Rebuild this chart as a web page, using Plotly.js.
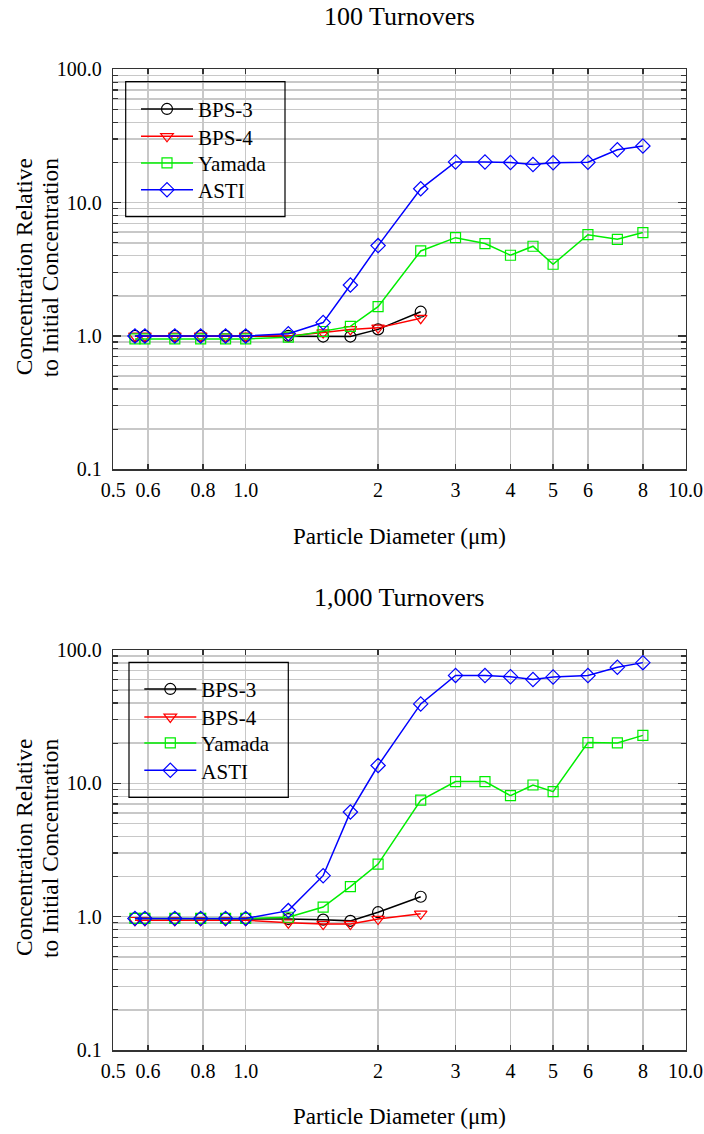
<!DOCTYPE html>
<html>
<head>
<meta charset="utf-8">
<script src="https://cdn.plot.ly/plotly-3.0.1.min.js"></script>
<style>
html,body{margin:0;padding:0;background:#fff;}
#chart{width:704px;height:1134px;}
</style>
</head>
<body>
<div id="chart"></div>
<script>
// ---- data ----
const diameters = [0.56, 0.59, 0.69, 0.79, 0.9, 1.0, 1.25, 1.5, 1.73, 2.0, 2.5, 3.0, 3.5, 4.0, 4.5, 5.0, 6.0, 7.0, 8.0];
const bpsDiameters = [0.56, 0.59, 0.69, 0.79, 0.9, 1.0, 1.25, 1.5, 1.73, 2.0, 2.5];

const bps3_100 = [1.0, 1.0, 1.0, 1.0, 1.0, 1.0, 1.0, 0.99, 0.99, 1.12, 1.52];
const bps4_100 = [1.0, 1.0, 1.0, 1.0, 0.99, 1.0, 1.0, 1.06, 1.12, 1.15, 1.36];
const yamada_100 = [0.95, 0.95, 0.95, 0.95, 0.95, 0.95, 0.98, 1.08, 1.18, 1.66, 4.34, 5.46, 4.93, 4.03, 4.71, 3.45, 5.75, 5.31, 5.96];
const asti_100 = [1.0, 1.0, 1.0, 1.0, 1.0, 1.0, 1.04, 1.26, 2.41, 4.76, 12.7, 20.2, 20.2, 20.0, 19.3, 19.9, 20.1, 24.9, 26.6];

const bps3_1000 = [0.97, 0.97, 0.97, 0.97, 0.97, 0.97, 0.96, 0.95, 0.93, 1.08, 1.41];
const bps4_1000 = [0.94, 0.94, 0.94, 0.94, 0.94, 0.94, 0.90, 0.88, 0.88, 0.96, 1.05];
const yamada_1000 = [0.97, 0.97, 0.97, 0.97, 0.97, 0.97, 0.99, 1.18, 1.68, 2.48, 7.47, 10.3, 10.3, 8.09, 9.72, 8.66, 20.2, 20.1, 22.9];
const asti_1000 = [0.97, 0.97, 0.97, 0.97, 0.97, 0.97, 1.11, 2.03, 6.1, 13.6, 39.4, 64.5, 64.3, 63.1, 60.0, 62.8, 64.3, 74.3, 80.4];

const seriesNames = ['BPS-3', 'BPS-4', 'Yamada', 'ASTI'];
const panelTitles = ['100 Turnovers', '1,000 Turnovers'];
const xTitleText = 'Particle Diameter (μm)';
const yTitleLines = ['Concentration Relative', 'to Initial Concentration'];

const xTickVals = [0.5, 0.6, 0.8, 1, 2, 3, 4, 5, 6, 8, 10];
const xTickText = ['0.5', '0.6', '0.8', '1.0', '2', '3', '4', '5', '6', '8', '10.0'];
const yTickVals = [0.1, 1, 10, 100];
const yTickText = ['0.1', '1.0', '10.0', '100.0'];
const yMinorVals = [0.2,0.3,0.4,0.5,0.6,0.7,0.8,0.9,2,3,4,5,6,7,8,9,20,30,40,50,60,70,80,90];

// ---- styling ----
const W = 704, H = 1134;
const FONT = '"Liberation Serif", "Times New Roman", serif';
const styles = [
  {color: '#000000', symbol: 'circle-open', size: 11},
  {color: '#ff0000', symbol: 'triangle-down-open', size: 11},
  {color: '#00ee00', symbol: 'square-open', size: 10},
  {color: '#0000ff', symbol: 'diamond-open', size: 11}
];

function px(x) { return x / W; }
function py(y) { return 1 - y / H; }

const panels = [
  {x: [bpsDiameters, bpsDiameters, diameters, diameters], y: [bps3_100, bps4_100, yamada_100, asti_100]},
  {x: [bpsDiameters, bpsDiameters, diameters, diameters], y: [bps3_1000, bps4_1000, yamada_1000, asti_1000]}
];

const plotTop = [69.3, 650];
const plotBot = [469.3, 1050];
const plotL = 113.3, plotR = 685.5;

// legend layout (pixel positions)
const legBox = [
  {x0: 125.7, x1: 285, y0: 81.7, y1: 216.7, lineStart: 141, rows: [109.3, 136.7, 163.3, 190]},
  {x0: 129, x1: 288.3, y0: 662.3, y1: 797.3, lineStart: 144.3, rows: [689.3, 717.3, 743.3, 770.7]}
];

const traces = [];
const legends = {};
let li = 0;
panels.forEach((p, pi) => {
  for (let s = 0; s < 4; s++) {
    li++;
    const lid = li === 1 ? 'legend' : 'legend' + li;
    traces.push({
      x: p.x[s], y: p.y[s], name: seriesNames[s],
      type: 'scatter', mode: 'lines+markers',
      xaxis: pi === 0 ? 'x' : 'x2', yaxis: pi === 0 ? 'y' : 'y2',
      legend: lid,
      line: {color: styles[s].color, width: 1.5},
      marker: {symbol: styles[s].symbol, size: styles[s].size, color: styles[s].color, line: {color: styles[s].color, width: 1.2}},
      cliponaxis: false
    });
    const b = legBox[pi];
    legends[lid] = {x: px(b.lineStart - 5), y: py(b.rows[s]), xanchor: 'left', yanchor: 'middle',
      bgcolor: 'rgba(0,0,0,0)', borderwidth: 0, font: {family: FONT, size: 21, color: '#000'}, itemwidth: 52};
  }
});

function xAxis(anchor) {
  return {
    type: 'log', range: [Math.log10(0.5), 1], domain: [px(plotL), px(plotR)], anchor: anchor,
    tickmode: 'array', tickvals: xTickVals, ticktext: xTickText,
    ticks: 'inside', ticklen: 5, tickwidth: 1.5, tickcolor: '#333',
    showgrid: true, gridcolor: '#c8c8c8', gridwidth: 1.5,
    showline: true, linecolor: '#333', linewidth: 1.5, mirror: 'allticks',
    zeroline: false, tickfont: {family: FONT, size: 20, color: '#000'},
    ticklabelstandoff: 2, fixedrange: true
  };
}
function yAxis(anchor, pi) {
  return {
    type: 'log', range: [-1, 2], domain: [py(plotBot[pi]), py(plotTop[pi])], anchor: anchor,
    tickmode: 'array', tickvals: yTickVals, ticktext: yTickText,
    ticks: 'inside', ticklen: 8, tickwidth: 1.5, tickcolor: '#333',
    showgrid: true, gridcolor: '#c8c8c8', gridwidth: 1.5,
    minor: {tickmode: 'array', tickvals: yMinorVals, ticks: 'inside', ticklen: 5, tickwidth: 1.2, tickcolor: '#333', showgrid: true, gridcolor: '#c8c8c8', gridwidth: 1.5},
    showline: true, linecolor: '#333', linewidth: 1.5, mirror: 'allticks',
    zeroline: false, tickfont: {family: FONT, size: 20, color: '#000'},
    ticklabelstandoff: 6, fixedrange: true
  };
}

const annotations = [];
const titleY = [16, 597];
const xTitleY = [537, 1116];
const yTitleX = [24, 50];
panels.forEach((p, pi) => {
  annotations.push({text: panelTitles[pi], xref: 'paper', yref: 'paper', x: px((plotL + plotR) / 2), y: py(titleY[pi]),
    xanchor: 'center', yanchor: 'middle', showarrow: false, font: {family: FONT, size: 26, color: '#000'}});
  annotations.push({text: xTitleText, xref: 'paper', yref: 'paper', x: px((plotL + plotR) / 2), y: py(xTitleY[pi]),
    xanchor: 'center', yanchor: 'middle', showarrow: false, font: {family: FONT, size: 23, color: '#000'}});
  yTitleLines.forEach((t, k) => {
    annotations.push({text: t, xref: 'paper', yref: 'paper', x: px(yTitleX[k]), y: py((plotTop[pi] + plotBot[pi]) / 2 - 2),
      xanchor: 'center', yanchor: 'middle', textangle: -90, showarrow: false, font: {family: FONT, size: 23.5, color: '#000'}});
  });
});

const shapes = legBox.map(b => ({type: 'rect', xref: 'paper', yref: 'paper', x0: px(b.x0), x1: px(b.x1), y0: py(b.y1), y1: py(b.y0),
  line: {color: '#000', width: 1.2}, fillcolor: 'rgba(255,255,255,0)', layer: 'above'}));

const layout = Object.assign({
  width: W, height: H, margin: {l: 0, r: 0, t: 0, b: 0},
  font: {family: FONT, color: '#000'},
  paper_bgcolor: '#fff', plot_bgcolor: '#fff',
  xaxis: xAxis('y'), yaxis: yAxis('x', 0),
  xaxis2: xAxis('y2'), yaxis2: yAxis('x2', 1),
  showlegend: true,
  annotations: annotations, shapes: shapes
}, legends);

function draw() { Plotly.newPlot('chart', traces, layout, {staticPlot: true, displayModeBar: false}); }
if (document.fonts && document.fonts.load) {
  document.fonts.load('20px "Liberation Serif"').then(draw, draw);
} else { draw(); }
</script>
</body>
</html>
